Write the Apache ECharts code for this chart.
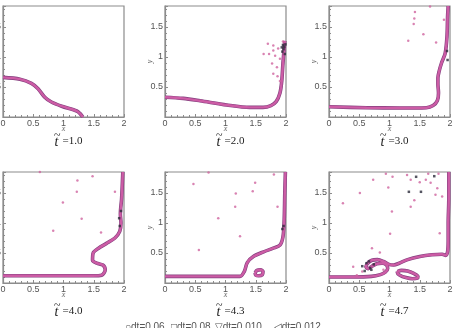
<!DOCTYPE html>
<html style="height: 100%">
<head>
  <meta charset="utf-8">
</head>
<body style="height: 100%; margin: 0; background: #fff">
  <div id="container" style="width: 454px; height: 328px"></div>
  <script type="text/javascript" src="https://cdn.jsdelivr.net/npm/echarts@6/dist/echarts.min.js"></script>
  <script type="text/javascript">
    // time of each panel
    var times = ['1.0', '2.0', '3.0', '4.0', '4.3', '4.7'];
    var legendItems = ['\u25CBdt=0.06', '\u25A1dt=0.08', '\u25BDdt=0.010', '\u25C1dt=0.012'];

    // interface (x, y)
    var curve1 = [[0, 0.66], [0.28, 0.63], [0.47, 0.56], [0.58, 0.47], [0.69, 0.33], [0.8, 0.25], [0.97, 0.18],
      [1.22, 0.1], [1.27, 0.06], [1.32, 0]];
    var curve2 = [[0, 0.33], [0.3, 0.31], [0.58, 0.27], [1.02, 0.2], [1.4, 0.16], [1.62, 0.16], [1.75, 0.19],
      [1.84, 0.26], [1.9, 0.4], [1.93, 0.6], [1.95, 0.9], [1.97, 1.15], [1.98, 1.27]];
    var curve3 = [[0, 0.17], [0.62, 0.155], [1.17, 0.15], [1.61, 0.155], [1.72, 0.19], [1.79, 0.27], [1.81, 0.4],
      [1.8, 0.55], [1.8, 0.65], [1.82, 0.76], [1.86, 0.9], [1.92, 1.06], [1.95, 1.34], [1.96, 1.67], [1.97, 1.85]];
    var curve4 = [[0, 0.12], [0.94, 0.12], [1.49, 0.12], [1.63, 0.13], [1.69, 0.22], [1.65, 0.3], [1.55, 0.33],
      [1.48, 0.38], [1.49, 0.5], [1.58, 0.58], [1.71, 0.66], [1.85, 0.75], [1.93, 0.86], [1.95, 1.0],
      [1.94, 1.15], [1.96, 1.4], [1.97, 1.6], [1.98, 1.85]];
    var curve5 = [[0, 0.11], [0.85, 0.11], [1.24, 0.11], [1.31, 0.19], [1.36, 0.34], [1.46, 0.44], [1.63, 0.52],
      [1.79, 0.58], [1.9, 0.63], [1.95, 0.77], [1.97, 1.05], [1.98, 1.5], [1.99, 1.85]];
    var curve6 = [[0, 0.1], [0.4, 0.1], [0.7, 0.11], [0.85, 0.14], [0.93, 0.18], [0.97, 0.24], [0.95, 0.3],
      [0.88, 0.33], [0.79, 0.32], [0.71, 0.28], [0.65, 0.24], [0.61, 0.27], [0.64, 0.33], [0.71, 0.38],
      [0.8, 0.39], [0.9, 0.36], [0.99, 0.31], [1.07, 0.3], [1.16, 0.33], [1.3, 0.39], [1.5, 0.44],
      [1.7, 0.47], [1.87, 0.48], [1.93, 0.46], [1.96, 0.52], [1.97, 0.7], [1.97, 1.0], [1.98, 1.4], [1.98, 1.85]];

    // detached bubbles
    var bubble5 = [[1.49, 0.17], [1.52, 0.21], [1.58, 0.22], [1.62, 0.19], [1.61, 0.14], [1.55, 0.12],
      [1.5, 0.13], [1.49, 0.17]];
    var bubble6 = [[1.13, 0.19], [1.2, 0.21], [1.3, 0.2], [1.4, 0.16], [1.47, 0.11], [1.46, 0.08], [1.38, 0.07],
      [1.27, 0.09], [1.17, 0.13], [1.13, 0.17], [1.13, 0.19]];

    // droplets (pink) and dark markers
    var drops1 = [];
    var drops2 = [[1.7, 1.22], [1.79, 1.19], [1.79, 1.11], [1.72, 1.05], [1.63, 1.05], [1.82, 1.02], [1.77, 0.89],
      [1.85, 0.83], [1.79, 0.72], [1.86, 0.68], [1.9, 0.97], [1.87, 1.14], [1.95, 1.26], [1.9, 0.6]];
    var drops3 = [[1.42, 1.75], [1.41, 1.64], [1.4, 1.55], [1.31, 1.27], [1.56, 1.38], [1.77, 1.24], [1.67, 1.84],
      [1.9, 1.62]];
    var drops4 = [[0.61, 1.85], [1.23, 1.71], [1.48, 1.78], [1.22, 1.52], [0.99, 1.34], [1.85, 1.52], [1.3, 1.07],
      [0.83, 0.87], [1.62, 0.84]];
    var drops5 = [[0.47, 1.65], [0.72, 1.84], [1.17, 1.49], [1.49, 1.67], [1.45, 1.53], [1.16, 1.27], [0.88, 1.08],
      [1.24, 0.78], [0.56, 0.55], [1.8, 1.81], [1.86, 1.27]];
    var drops6 = [[0.94, 1.82], [0.73, 1.72], [1.05, 1.77], [1.29, 1.8], [1.35, 1.72], [1.64, 1.82], [1.81, 1.82],
      [1.6, 1.72], [1.5, 1.68], [1.68, 1.67], [0.98, 1.59], [1.79, 1.58], [1.76, 1.47], [0.51, 1.5],
      [1.87, 1.44], [1.41, 1.38], [0.23, 1.33], [1.04, 1.19], [1.35, 1.27], [1.01, 0.82], [1.83, 0.83],
      [0.71, 0.58], [0.84, 0.51], [0.4, 0.27], [0.46, 0.13], [0.9, 0.22], [0.55, 0.19]];
    var dark1 = [];
    var dark2 = [[1.93, 1.16], [1.95, 1.2], [1.97, 1.17], [1.99, 1.21], [1.96, 1.13], [1.94, 1.09], [1.98, 1.05]];
    var dark3 = [[1.95, 1.1], [1.96, 0.95]];
    var dark4 = [[1.93, 0.95], [1.92, 1.08], [1.95, 1.2]];
    var dark5 = [[1.94, 0.9], [1.96, 0.95]];
    var dark6 = [[1.44, 1.77], [1.74, 1.78], [1.32, 1.52], [1.52, 1.52], [0.68, 0.25], [0.59, 0.2], [0.74, 0.31],
      [0.62, 0.33], [0.55, 0.28], [0.7, 0.22], [0.66, 0.36]];

    var curves = [curve1, curve2, curve3, curve4, curve5, curve6];
    var bubbles = [[], [], [], [], bubble5, bubble6];
    var drops = [drops1, drops2, drops3, drops4, drops5, drops6];
    var darks = [dark1, dark2, dark3, dark4, dark5, dark6];

    var dom = document.getElementById("container");
    var myChart = echarts.init(dom);

    function buildOption() {
      var lefts = [3, 165, 329];
      var rowTops = [6, 172];
      var frame = '#8c8c8c';
      var grids = [], xAxes = [], yAxes = [], series = [], graphics = [];

      for (var i = 0; i < 6; i++) {
        var gl = lefts[i % 3];
        var gt = rowTops[Math.floor(i / 3)];
        grids.push({
          left: gl, top: gt, width: 121, height: 111, show: true,
          borderColor: frame, borderWidth: 1.2, outerBoundsMode: 'none', containLabel: false
        });
        xAxes.push({
          gridIndex: i, type: 'value', min: 0, max: 2, interval: 0.5,
          name: 'x', nameLocation: 'middle', nameGap: 8, nameMoveOverlap: false,
          nameTextStyle: { fontFamily: 'Liberation Serif', fontStyle: 'italic', fontSize: 8, color: '#666' },
          axisLine: { show: true, lineStyle: { color: frame, width: 1.2 } },
          axisTick: { inside: true, length: 3, lineStyle: { color: frame } },
          minorTick: { show: true, splitNumber: 5, length: 2, lineStyle: { color: frame } },
          splitLine: { show: false },
          axisLabel: { fontSize: 9, color: '#555', margin: 2, fontFamily: 'Liberation Sans', showMinLabel: true, showMaxLabel: true }
        });
        yAxes.push({
          gridIndex: i, type: 'value', min: 0, max: 1.85, interval: 0.5,
          name: 'y', nameLocation: 'middle', nameGap: 11, nameRotate: 90, nameMoveOverlap: false,
          nameTextStyle: { fontFamily: 'Liberation Serif', fontStyle: 'italic', fontSize: 8, color: '#666' },
          axisLine: { show: true, lineStyle: { color: frame, width: 1.2 } },
          axisTick: { inside: true, length: 3, lineStyle: { color: frame } },
          minorTick: { show: true, splitNumber: 5, length: 2, lineStyle: { color: frame } },
          splitLine: { show: false },
          axisLabel: {
            fontSize: 9, color: '#555', margin: 2, fontFamily: 'Liberation Sans', showMinLabel: false, showMaxLabel: false,
            formatter: function (v) { return v === 0 ? '' : String(v); }
          }
        });

        [curves[i], bubbles[i]].forEach(function (pts) {
          if (!pts.length) return;
          series.push({
            type: 'line', xAxisIndex: i, yAxisIndex: i, data: pts, showSymbol: false, smooth: 0.3, z: 2,
            lineStyle: { color: '#84407f', width: 3.6 }, silent: true
          });
          series.push({
            type: 'line', xAxisIndex: i, yAxisIndex: i, data: pts, showSymbol: false, smooth: 0.3, z: 3,
            lineStyle: { color: '#cc5ca5', width: 2.4 }, silent: true
          });
        });
        series.push({
          type: 'scatter', xAxisIndex: i, yAxisIndex: i, data: drops[i], symbolSize: 2.5, z: 4,
          itemStyle: { color: '#d0649f' }
        });
        series.push({
          type: 'scatter', xAxisIndex: i, yAxisIndex: i, data: darks[i], symbol: 'rect', symbolSize: 2.5, z: 5,
          itemStyle: { color: '#2b2b3a' }
        });

        // panel caption: t with a tilde over it, then "=value"
        var cx = gl + 65.5;
        var cy = i < 3 ? 143 : 313;
        graphics.push({
          type: 'text', left: cx - 14, top: cy - 8,
          style: { text: 't', font: 'italic 14px "Liberation Serif"', fill: '#222' }
        });
        graphics.push({
          type: 'text', left: cx - 14.5, top: cy - 13,
          style: { text: '~', font: '12px "Liberation Serif"', fill: '#222' }
        });
        graphics.push({
          type: 'text', left: cx - 6, top: cy - 7,
          style: { text: '=' + times[i], font: '11px "Liberation Serif"', fill: '#222' }
        });
      }

      var legendX = [125, 171, 215, 274];
      legendItems.forEach(function (t, k) {
        graphics.push({
          type: 'text', left: legendX[k], top: 322,
          style: { text: t, font: '10px "Liberation Sans", "DejaVu Sans"', fill: '#555' }
        });
      });

      return {
        animation: false,
        backgroundColor: '#fff',
        grid: grids,
        xAxis: xAxes,
        yAxis: yAxes,
        series: series,
        graphic: graphics
      };
    }

    myChart.setOption(buildOption());
  </script>
</body>
</html>
